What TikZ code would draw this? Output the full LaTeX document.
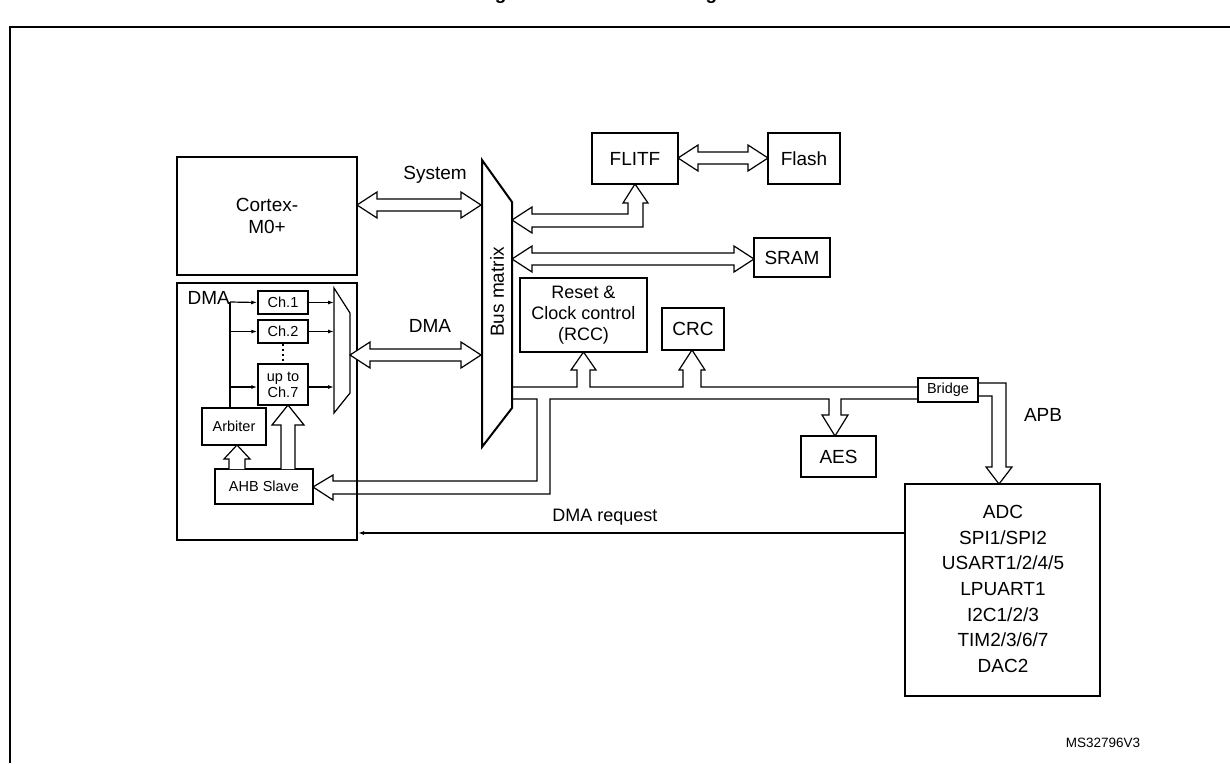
\documentclass[tikz,border=0pt]{standalone}
\usepackage{fontspec}
\setmainfont{Liberation Sans}
\usetikzlibrary{arrows.meta}
\newcommand\hdarrow[3]{% x1 x2 y : horizontal double hollow arrow
  \draw[pipe] (#1,#3) -- ({#1+20},{#3-13}) -- ({#1+20},{#3-6}) -- ({#2-20},{#3-6}) -- ({#2-20},{#3-13}) -- (#2,#3) -- ({#2-20},{#3+13}) -- ({#2-20},{#3+6}) -- ({#1+20},{#3+6}) -- ({#1+20},{#3+13}) -- cycle;}
\begin{document}
\begin{tikzpicture}[x=1pt,y=-1pt,
  box/.style={draw,line width=2pt,inner sep=0pt},
  sbox/.style={draw,line width=1.5pt,inner sep=0pt},
  pipe/.style={draw,line width=1.2pt,fill=white,line join=miter},
  thin/.style={line width=1.2pt,-{Latex[length=6pt,width=4pt]}},
  big/.style={font=\fontsize{19}{22}\selectfont,align=center},
  small/.style={font=\fontsize{14.5}{17}\selectfont,align=center}]
\useasboundingbox (0,0) rectangle (1230,763);
\node[font=\bfseries\fontsize{19}{22}\selectfont] (title) at (615,-5.5) {Figure 25. DMA block diagram};
\draw[line width=2pt] (10,763) -- (10,27) -- (1230,27);
% boxes
\node[box,minimum width=180pt,minimum height=118pt,big] (cpu) at (267,216) {Cortex-\\M0+};
\node[box,minimum width=180pt,minimum height=257pt] (dma) at (267,411.5) {};
\node[big,anchor=west] (dmal) at (184,298) {DMA};
\node[sbox,minimum width=50pt,minimum height=23pt,small] (c1) at (283,302.5) {Ch.1};
\node[sbox,minimum width=50pt,minimum height=23pt,small] (c2) at (283,331.5) {Ch.2};
\node[sbox,minimum width=50pt,minimum height=41pt,small] (c7) at (283,384.5) {up to\\[-1pt]Ch.7};
\node[sbox,minimum width=64pt,minimum height=37pt,small] (arb) at (234,426.5) {Arbiter};
\node[sbox,minimum width=98pt,minimum height=35pt,small] (ahb) at (264,486.5) {AHB Slave};
\node[big,minimum width=62pt,minimum height=42pt,box] (crc) at (693,329) {CRC};
\node[big,minimum width=127pt,minimum height=74pt,box,font=\fontsize{18}{21}\selectfont] (rcc) at (583.5,315) {Reset \&\\Clock control\\(RCC)};
\node[big,box,minimum width=86pt,minimum height=51pt] (flitf) at (635,158.5) {FLITF};
\node[big,box,minimum width=72pt,minimum height=51pt] (flash) at (804,158.5) {Flash};
\node[big,box,minimum width=76pt,minimum height=39pt] (sram) at (792,257.5) {SRAM};
\node[big,box,minimum width=75pt,minimum height=41pt] (aes) at (838.5,456.5) {AES};
\node[sbox,minimum width=60pt,minimum height=24pt,small] (bridge) at (948,390) {Bridge};
\node[box,minimum width=195pt,minimum height=212pt] (per) at (1002.5,590) {};
\node[big,font=\fontsize{19}{25.7}\selectfont] (pertxt) at (1003,589) {ADC\\SPI1/SPI2\\USART1/2/4/5\\LPUART1\\I2C1/2/3\\TIM2/3/6/7\\DAC2};
% mux
\draw[line width=1.2pt] (334,288) -- (334,413) -- (350,393) -- (350,313) -- cycle;
% bus matrix
\draw[line width=2pt] (482,160) -- (512,202) -- (512,408) -- (482,447) -- cycle;
\node[big,rotate=90] (bm) at (497,292) {Bus matrix};
% arbiter lines
\draw[line width=1.2pt] (230,408) -- (230,302);
\draw[thin] (230,302) -- (c1.west);
\draw[thin] (230,331.5) -- (c2.west);
\draw[thin] (230,387) -- (c7.west|-230,387);
\draw[thin] (c1.east) -- (334,302.5);
\draw[thin] (c2.east) -- (334,331.5);
\draw[thin] (c7.east|-0,387) -- (334,387);
\draw[line width=1.5pt,dash pattern=on 2pt off 3pt] (283,344) -- (283,363);
% hollow arrows inside DMA
\draw[pipe] (229,469) -- (229,459) -- (224,459) -- (237,445) -- (250,459) -- (245,459) -- (245,469);
\draw[pipe] (281,469) -- (281,425) -- (272,425) -- (288,405) -- (304,425) -- (295,425) -- (295,469);
% double arrows
\hdarrow{357}{481}{205}
\node[big] (sys) at (435,175) {System};
\hdarrow{350}{481}{355}
\node[big] (dmalab) at (430,326) {DMA};
\hdarrow{678}{768}{158}
\hdarrow{512}{754}{259}
% bus to FLITF
\draw[pipe] (512,220) -- (532,207) -- (532,214) -- (628,214) -- (628,203) -- (623,203) -- (635,184) -- (648,203) -- (643,203) -- (643,227) -- (532,227) -- (532,233) -- cycle;
% AHB bus
\draw[line width=1.2pt,line join=miter] (512,387) -- (577,387) -- (577,370) -- (571,370) -- (583.5,352) -- (596,370) -- (590,370) -- (590,387)
  -- (683,387) -- (683,370) -- (679,370) -- (692,350) -- (705,370) -- (701,370) -- (701,387) -- (bridge.west|-0,387);
\draw[line width=1.2pt,line join=miter] (bridge.west|-0,399) -- (841,399) -- (841,415) -- (848,415) -- (835,436) -- (822,415) -- (829,415) -- (829,399) -- (550,399)
  -- (550,494) -- (333,494) -- (333,500) -- (313,487) -- (333,475) -- (333,481) -- (537,481) -- (537,399) -- (512,399);
% APB
\draw[line width=1.2pt,line join=miter] (bridge.east|-0,383) -- (1006,383) -- (1006,467) -- (1012,467) -- (999,484) -- (986,467) -- (992,467) -- (992,396) -- (bridge.east|-0,396);
\node[big] (apb) at (1043,415) {APB};
% DMA request
\draw[thin] (per.west|-0,533) -- (dma.east|-0,533);
\node[big,font=\fontsize{18}{20}\selectfont] (req) at (605,517) {DMA request};
\node[font=\fontsize{13.5}{15}\selectfont] (ms) at (1103,743) {MS32796V3};
\end{tikzpicture}
\end{document}
